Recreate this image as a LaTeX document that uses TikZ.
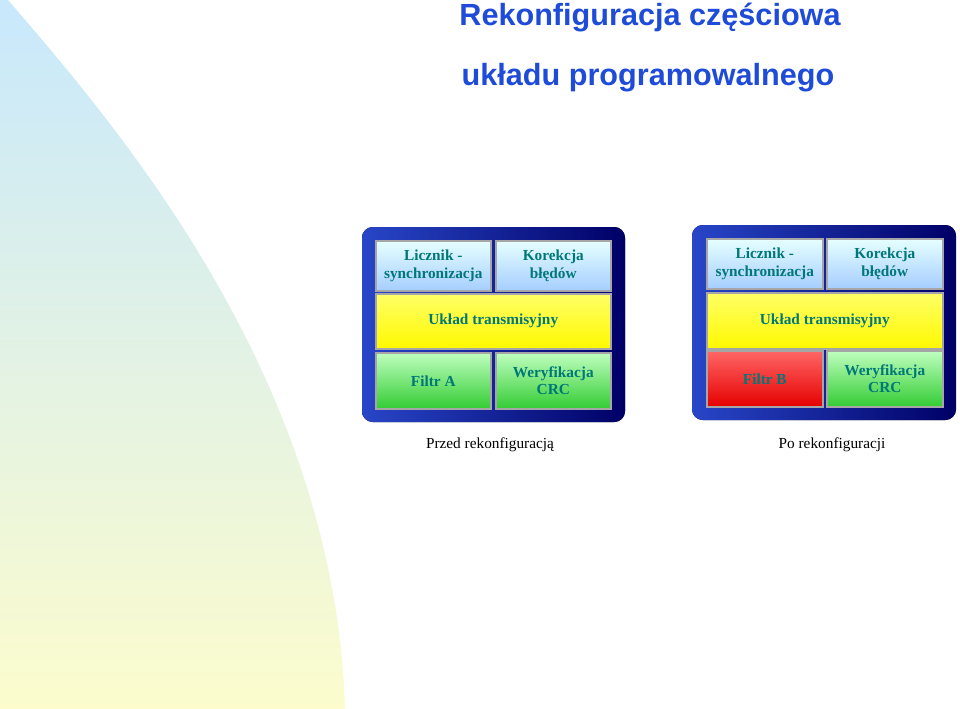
\documentclass[tikz,border=0pt]{standalone}
\usepackage{fontspec}
\setmainfont{Liberation Serif}
\newfontfamily\titlefont{Liberation Sans}
\usetikzlibrary{positioning}
\definecolor{titleblue}{RGB}{30,75,215}
\definecolor{celltext}{RGB}{0,120,120}
\definecolor{frameblue}{RGB}{40,70,200}
\definecolor{bandtop}{RGB}{200,232,252}
\definecolor{bandbottom}{RGB}{252,252,205}

\begin{document}
\begin{tikzpicture}
		[x=0.0264cm, y=-0.0264cm,
		frame/.style={rounded corners=8pt, left color=frameblue, right color=blue!40!black, draw=none},
		cell/.style={rectangle, draw=gray!70, line width=1.2pt, font=\bfseries\fontsize{11.5}{13}\selectfont,
			text=celltext, align=center, anchor=north west, inner sep=0pt},
		bluecell/.style={cell, top color=cyan!10, bottom color=cyan!45!blue!35},
		yellowcell/.style={cell, top color=yellow!60, bottom color=yellow!95!orange},
		greencell/.style={cell, top color=green!25, bottom color=green!75!black!80},
		redcell/.style={cell, top color=red!60, bottom color=red!90!black},
		caption/.style={font=\fontsize{11.5}{13}\selectfont},
		]
		\useasboundingbox (0,0) rectangle (960,709);
		% background band
		\shade[top color=bandtop, bottom color=bandbottom, draw=none]
			(0,0) -- (8,0) .. controls (120,130) and (335,380) .. (345,709) -- (0,709) -- cycle;
		% titles
		\node[font=\titlefont\bfseries\fontsize{23}{27}\selectfont, text=titleblue] (title1) at (650,18) {Rekonfiguracja częściowa};
		\node[font=\titlefont\bfseries\fontsize{23}{27}\selectfont, text=titleblue] (title2) at (648,78) {układu programowalnego};
		
		% before
		\fill[frame] (362,227) rectangle (625,422);
		\node[bluecell, minimum width=115*0.0264cm, minimum height=50*0.0264cm] (licznikA) at (375,240) {Licznik -\\synchronizacja};
		\node[bluecell, minimum width=115*0.0264cm, minimum height=50*0.0264cm] (korekcjaA) at (495,240) {Korekcja\\błędów};
		\node[yellowcell, minimum width=235*0.0264cm, minimum height=55*0.0264cm] (ukladA) at (375,293) {Układ transmisyjny};
		\node[greencell, minimum width=115*0.0264cm, minimum height=56*0.0264cm] (filtrA) at (375,352) {Filtr A};
		\node[greencell, minimum width=115*0.0264cm, minimum height=56*0.0264cm] (crcA) at (495,352) {Weryfikacja\\CRC};
		\node[caption] (capA) at (490,445) {Przed rekonfiguracją};
		
		% after
		\fill[frame] (692,225) rectangle (956,420);
		\node[bluecell, minimum width=116*0.0264cm, minimum height=50*0.0264cm] (licznikB) at (706,238) {Licznik -\\synchronizacja};
		\node[bluecell, minimum width=116*0.0264cm, minimum height=50*0.0264cm] (korekcjaB) at (826,238) {Korekcja\\błędów};
		\node[yellowcell, minimum width=236*0.0264cm, minimum height=56*0.0264cm] (ukladB) at (706,292) {Układ transmisyjny};
		\node[redcell, minimum width=116*0.0264cm, minimum height=56*0.0264cm] (filtrB) at (706,350) {Filtr B};
		\node[greencell, minimum width=116*0.0264cm, minimum height=56*0.0264cm] (crcB) at (826,350) {Weryfikacja\\CRC};
		\node[caption] (capB) at (832,445) {Po rekonfiguracji};
		
	\end{tikzpicture}
\end{document}
